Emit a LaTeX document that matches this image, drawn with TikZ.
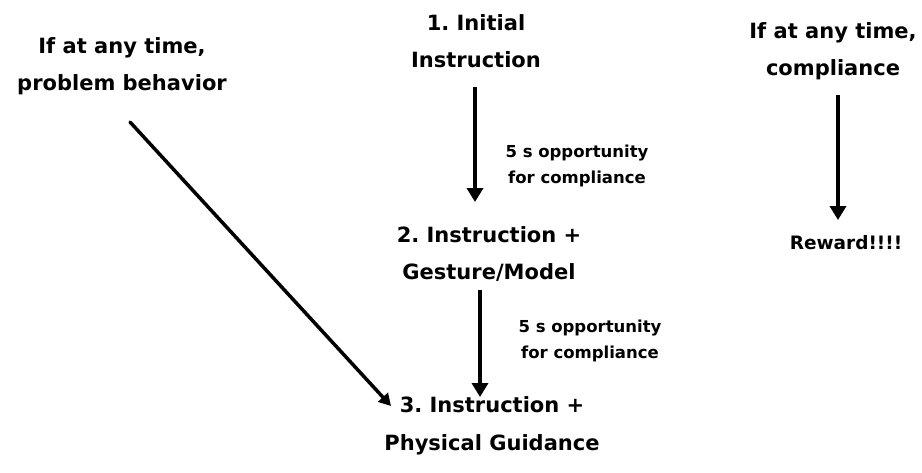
\documentclass[tikz,border=0pt]{standalone}
\usepackage{fontspec}
\setmainfont{DejaVu Sans}
\usetikzlibrary{arrows.meta}
\begin{document}
\frenchspacing
\begin{tikzpicture}[x=1pt,y=-1pt,
  big/.style={font=\bfseries\fontsize{21}{37.5}\selectfont, align=center, inner sep=0pt},
  small/.style={font=\bfseries\fontsize{16.5}{26}\selectfont, align=center, inner sep=0pt},
  rew/.style={font=\bfseries\fontsize{18.5}{20}\selectfont, inner sep=0pt},
  arr/.style={line width=4.5pt, -{Triangle[length=14pt,width=16pt]}}]
\useasboundingbox (0,0) rectangle (922,472);
\node[big] (s1) at (476,41) {1. Initial\\Instruction};
\node[big] (s2) at (489,254) {2. Instruction +\\Gesture/Model};
\node[big] (s3) at (492,426) {3. Instruction +\\Physical Guidance};
\node[big] (pb) at (122,66) {If at any time,\\problem behavior};
\node[big] (cp) at (833,51) {If at any time,\\compliance};
\node[rew] (rw) at (846,243) {Reward!!!!};
\node[small] (l1) at (577,166) {5 s opportunity\\for compliance};
\node[small] (l2) at (590,341) {5 s opportunity\\for compliance};
\coordinate (a1s) at (475,87);
\coordinate (a1e) at (475,202);
\coordinate (a2s) at (480,290);
\coordinate (a2e) at (480,397);
\coordinate (a3s) at (838,95);
\coordinate (a3e) at (838,220);
\coordinate (a4s) at (130,122);
\coordinate (a4e) at (391,406);
\draw[arr] (a1s) -- (a1e);
\draw[arr] (a2s) -- (a2e);
\draw[arr] (a3s) -- (a3e);
\draw[line width=3.5pt, line cap=round, -{Triangle[length=12pt,width=13pt]}] (a4s) -- (a4e);
\end{tikzpicture}
\end{document}
